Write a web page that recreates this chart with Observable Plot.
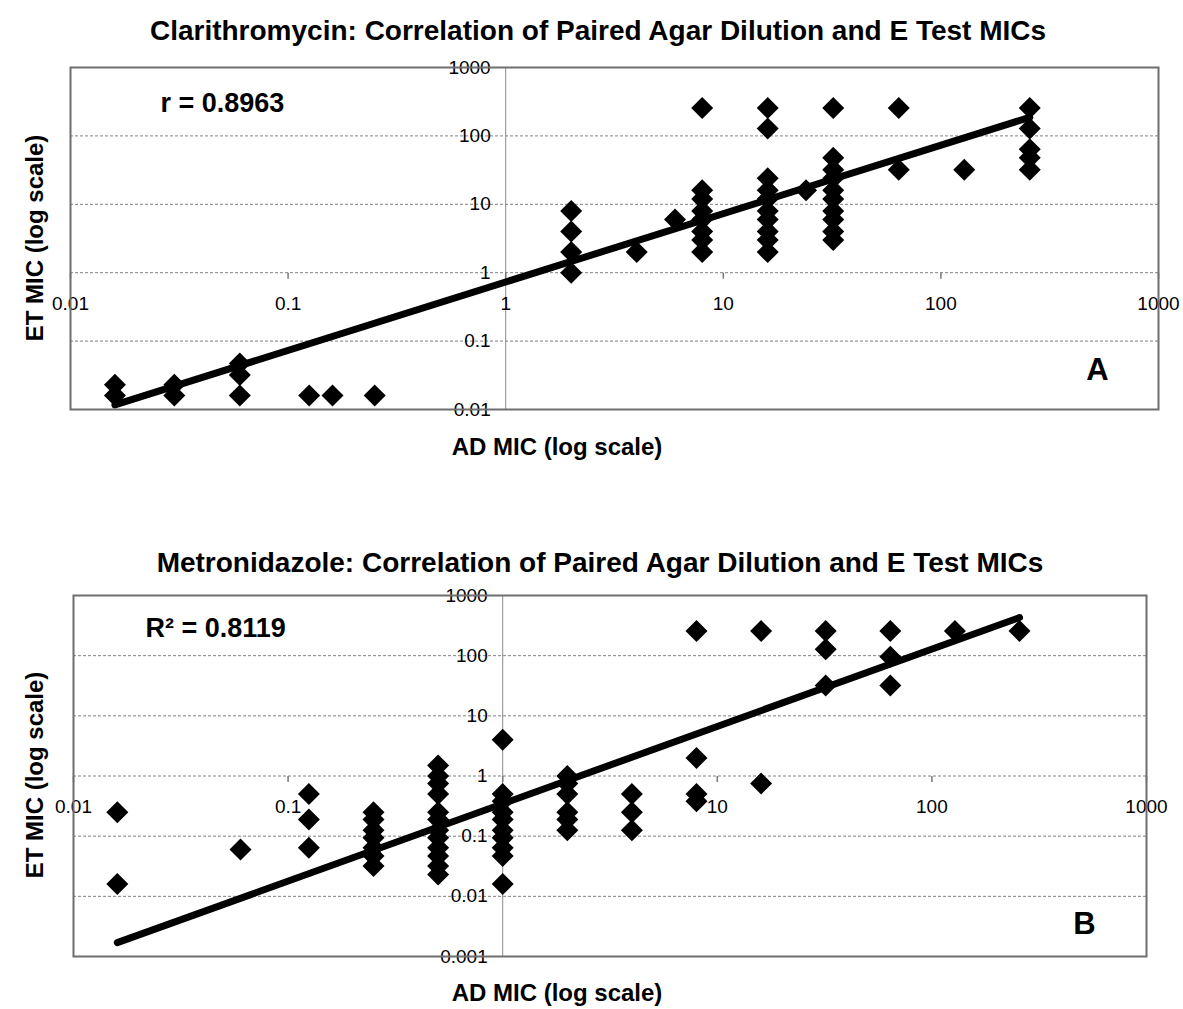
<!DOCTYPE html>
<html>
<head>
<meta charset="utf-8">
<script src="https://cdn.jsdelivr.net/npm/d3@7"></script>
<script src="https://cdn.jsdelivr.net/npm/@observablehq/plot@0.6"></script>
<style>
  html, body { margin: 0; padding: 0; background: #fff; }
  #wrap { position: relative; width: 1183px; height: 1009px; background: #fff; font-family: "Liberation Sans", Arial, sans-serif; color: #000; }
  .t { position: absolute; white-space: nowrap; font-weight: bold; line-height: 1; transform: translate(-50%, -50%); }
  .rot { transform: translate(-50%, -50%) rotate(-90deg); }
  .plot { position: absolute; left: 0; }
</style>
</head>
<body>
<div id="wrap"></div>
<script>
// ---- Data ----
const titleA = "Clarithromycin: Correlation of Paired Agar Dilution and E Test MICs";
const titleB = "Metronidazole: Correlation of Paired Agar Dilution and E Test MICs";
const xTitle = "AD MIC (log scale)";
const yTitle = "ET MIC (log scale)";
const statA = "r = 0.8963";
const statB = "R² = 0.8119";

const xTicks = [0.01, 0.1, 1, 10, 100, 1000];
const xTickLabels = ["0.01", "0.1", "1", "10", "100", "1000"];
const yTicksA = [0.01, 0.1, 1, 10, 100, 1000];
const yTickLabelsA = ["0.01", "0.1", "1", "10", "100", "1000"];
const yTicksB = [0.001, 0.01, 0.1, 1, 10, 100, 1000];
const yTickLabelsB = ["0.001", "0.01", "0.1", "1", "10", "100", "1000"];

// Clarithromycin: agar dilution MIC (x) vs E test MIC (y)
const clarAD = [0.016, 0.016, 0.03, 0.03, 0.06, 0.06, 0.06, 0.125, 0.16, 0.25,
  2, 2, 2, 2, 4, 6,
  8, 8, 8, 8, 8, 8, 8, 8,
  16, 16, 16, 16, 16, 16, 16, 16, 16, 16,
  24,
  32, 32, 32, 32, 32, 32, 32, 32, 32, 32,
  64, 64, 128,
  256, 256, 256, 256, 256];
const clarET = [0.016, 0.023, 0.016, 0.023, 0.016, 0.032, 0.047, 0.016, 0.016, 0.016,
  1, 2, 4, 8, 2, 6,
  2, 3, 4, 6, 8, 12, 16, 256,
  2, 3, 4, 6, 8, 12, 16, 24, 128, 256,
  16,
  3, 4, 6, 8, 12, 16, 24, 32, 48, 256,
  32, 256, 32,
  32, 48, 64, 128, 256];
const clarTrendX = [0.016, 256];
const clarTrendY = [0.0117, 187];

// Metronidazole
const metroAD = [0.016, 0.016, 0.06, 0.125, 0.125, 0.125,
  0.25, 0.25, 0.25, 0.25, 0.25, 0.25, 0.25,
  0.5, 0.5, 0.5, 0.5, 0.5, 0.5, 0.5, 0.5, 0.5, 0.5, 0.5, 0.5,
  1, 1, 1, 1, 1, 1, 1, 1, 1, 1,
  2, 2, 2, 2, 2, 2,
  4, 4, 4,
  8, 8, 8, 8,
  16, 16,
  32, 32, 32,
  64, 64, 64,
  128, 256];
const metroET = [0.016, 0.25, 0.06, 0.064, 0.19, 0.5,
  0.032, 0.047, 0.064, 0.094, 0.125, 0.19, 0.25,
  0.023, 0.032, 0.047, 0.064, 0.094, 0.125, 0.19, 0.25, 0.5, 0.75, 1, 1.5,
  0.016, 0.047, 0.064, 0.094, 0.125, 0.19, 0.25, 0.38, 0.5, 4,
  0.125, 0.19, 0.25, 0.5, 0.75, 1,
  0.125, 0.25, 0.5,
  0.38, 0.5, 2, 256,
  0.75, 256,
  32, 128, 256,
  32, 96, 256,
  256, 256];
const metroTrendX = [0.016, 256];
const metroTrendY = [0.0017, 430];

// ---- Helpers ----
const diamond = {
  draw(ctx, size) {
    const r = 11;
    ctx.moveTo(0, -r); ctx.lineTo(r, 0); ctx.lineTo(0, r); ctx.lineTo(-r, 0); ctx.closePath();
  }
};
const tickDown = {
  draw(ctx, size) { ctx.moveTo(0, 0); ctx.lineTo(0, 6); }
};
const FONT = "'Liberation Sans', Arial, sans-serif";

function panel(o) {
  const pts = o.ad.map((x, i) => ({x, y: o.et[i]}));
  const trend = o.tx.map((x, i) => ({x, y: o.ty[i]}));
  const gridTicks = o.yTicks.slice(1, -1);
  return Plot.plot({
    width: 1183, height: o.height,
    marginLeft: o.ml, marginRight: o.mr, marginTop: o.mt, marginBottom: o.mb,
    x: {type: "log", domain: [xTicks[0], xTicks[xTicks.length - 1]], axis: null},
    y: {type: "log", domain: [o.yTicks[0], o.yTicks[o.yTicks.length - 1]], axis: null},
    style: {fontFamily: FONT, fontSize: "19px", background: "transparent", overflow: "visible", color: "#000"},
    marks: [
      Plot.ruleY(gridTicks, {y: d => d, stroke: "#808080", strokeWidth: 1, strokeDasharray: "3,2"}),
      Plot.ruleX([1], {stroke: "#8a8a8a", strokeWidth: 1}),
      Plot.dot(xTicks, {x: d => d, y: 1, symbol: tickDown, stroke: "#777", fill: "none", r: 3}),
      Plot.text(xTicks, {x: d => d, y: 1, text: (d, i) => xTickLabels[i], dy: 31, fontSize: 19, fill: "#000"}),
      Plot.text(o.yTicks, {x: 1, y: d => d, text: (d, i) => o.yLabels[i], textAnchor: "end", dx: -15, fontSize: 19, fill: "#000"}),
      Plot.line(trend, {x: "x", y: "y", stroke: "#000", strokeWidth: 7, strokeLinecap: "round"}),
      Plot.dot(pts, {x: "x", y: "y", symbol: diamond, fill: "#000", stroke: "none", r: 5}),
      Plot.frame({stroke: "#6e6e6e", strokeWidth: 2}),
      Plot.text([o.stat], {frameAnchor: "top-left", dx: o.statDx, dy: o.statDy, textAnchor: "start", lineAnchor: "middle", fontSize: 27, fontWeight: "bold", fill: "#000"}),
      Plot.text([o.letter], {frameAnchor: "bottom-right", dx: o.letDx, dy: o.letDy, textAnchor: "middle", lineAnchor: "middle", fontSize: 31, fontWeight: "bold", fill: "#000"})
    ]
  });
}

const wrap = document.getElementById("wrap");
function addText(txt, x, y, size, cls) {
  const d = document.createElement("div");
  d.className = "t" + (cls ? " " + cls : "");
  d.textContent = txt;
  d.style.left = x + "px";
  d.style.top = y + "px";
  d.style.fontSize = size + "px";
  wrap.appendChild(d);
}

const pA = panel({ad: clarAD, et: clarET, tx: clarTrendX, ty: clarTrendY,
  yTicks: yTicksA, yLabels: yTickLabelsA, height: 400, ml: 70, mr: 25, mt: 17, mb: 41,
  stat: statA, statDx: 90, statDy: 36, letter: "A", letDx: -61, letDy: -39});
pA.classList.add("plot");
pA.style.top = "50px";
wrap.appendChild(pA);

const pB = panel({ad: metroAD, et: metroET, tx: metroTrendX, ty: metroTrendY,
  yTicks: yTicksB, yLabels: yTickLabelsB, height: 400, ml: 73, mr: 37, mt: 15, mb: 24,
  stat: statB, statDx: 72, statDy: 33, letter: "B", letDx: -62, letDy: -32});
pB.classList.add("plot");
pB.style.top = "580px";
wrap.appendChild(pB);

addText(titleA, 598, 31, 28);
addText(xTitle, 557, 447, 24);
addText(yTitle, 35, 238, 24, "rot");
addText(titleB, 600, 563, 28);
addText(xTitle, 557, 993, 24);
addText(yTitle, 35, 775, 24, "rot");
</script>
</body>
</html>
